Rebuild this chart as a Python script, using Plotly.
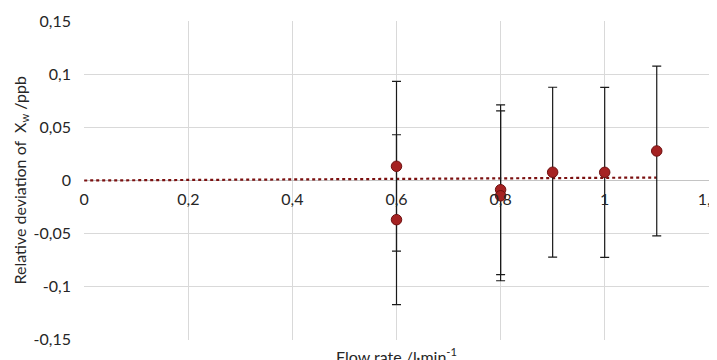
import numpy as np
import plotly.graph_objects as go

# Data
flow_rate = [0.6, 0.6, 0.8, 0.8, 0.9, 1.0, 1.1]
rel_dev = [0.0134, -0.0369, -0.0087, -0.0144, 0.0078, 0.0077, 0.0278]
err = [0.08, 0.08, 0.08, 0.08, 0.08, 0.08, 0.08]

x_ticks = [0, 0.2, 0.4, 0.6, 0.8, 1.0, 1.2]
x_ticktext = ["0", "0,2", "0,4", "0,6", "0,8", "1", "1,2"]
y_ticks = [-0.15, -0.1, -0.05, 0, 0.05, 0.1, 0.15]
y_ticktext = ["-0,15", "-0,1", "-0,05", "0", "0,05", "0,1", "0,15"]

# Linear trendline through origin (least squares)
xa = np.array(flow_rate)
ya = np.array(rel_dev)
slope = float(np.sum(xa * ya) / np.sum(xa * xa))
trend_x = [0.0, max(flow_rate)]
trend_y = [slope * v for v in trend_x]

FONT = "Lato, 'Open Sans', sans-serif"
GRID = "#d9d9d9"
TXT = "#262626"

fig = go.Figure()
fig.add_trace(go.Scatter(
    x=trend_x, y=trend_y, mode="lines",
    line=dict(color="#7b1010", width=2.2, dash="dot"),
    hoverinfo="skip", showlegend=False,
))
fig.add_trace(go.Scatter(
    x=flow_rate, y=rel_dev, mode="markers",
    marker=dict(size=10.5, color="#a52222", line=dict(color="#6e1010", width=1)),
    error_y=dict(type="data", array=err, visible=True, color="#1a1a1a",
                 thickness=1.2, width=4.5),
    showlegend=False,
))

fig.update_layout(
    width=709, height=352,
    margin=dict(l=76, r=8, t=13, b=20, autoexpand=False),
    paper_bgcolor="white", plot_bgcolor="white",
    font=dict(family=FONT, size=16, color=TXT),
    showlegend=False,
    xaxis=dict(
        range=[-0.0004, 1.2004], tickvals=x_ticks, ticktext=x_ticktext,
        showgrid=True, gridcolor=GRID, gridwidth=1,
        zeroline=False, showline=False, automargin=False,
        anchor="free", position=0.5,
        ticks="", ticklabelstandoff=7, ticklabeloverflow="allow",
        tickfont=dict(size=16, color=TXT),
    ),
    yaxis=dict(
        range=[-0.1502, 0.1502], tickvals=y_ticks, ticktext=y_ticktext,
        showgrid=True, gridcolor=GRID, gridwidth=1,
        zeroline=True, zerolinecolor="#c4c4c4", zerolinewidth=1,
        showline=False, ticks="", ticklabelstandoff=12, automargin=False,
        tickfont=dict(size=16, color=TXT),
    ),
    annotations=[
        dict(
            text="Flow rate /l·min<sup>-1</sup>", xref="paper", yref="paper",
            x=0.5, y=0, yshift=-3, xanchor="center", yanchor="top",
            showarrow=False, font=dict(size=16, color=TXT),
        ),
        dict(
            text="Relative deviation of  X<sub>w</sub> /ppb", xref="paper", yref="paper",
            x=0, y=0.5, xshift=-64, xanchor="center", yanchor="middle",
            textangle=-90, showarrow=False, font=dict(size=16, color=TXT),
        ),
    ],
)

fig.write_html("out.html")
